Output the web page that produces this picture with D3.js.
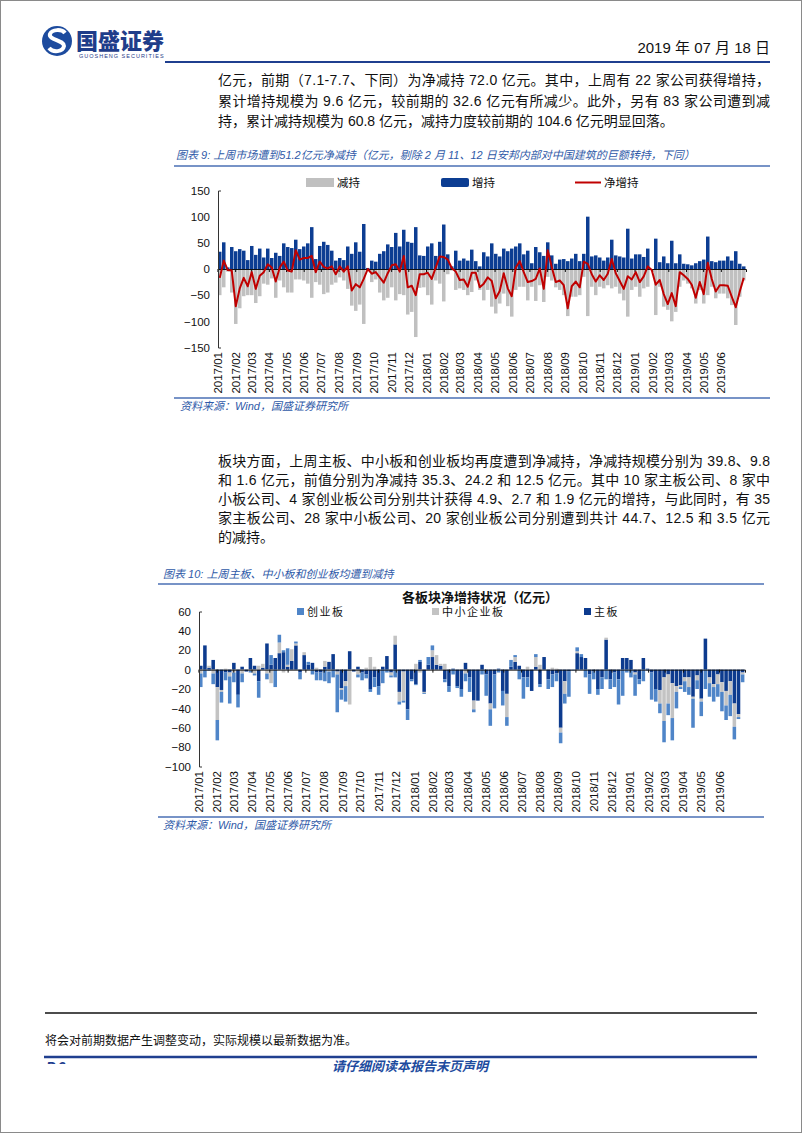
<!DOCTYPE html>
<html>
<head>
<meta charset="utf-8">
<script src="https://cdn.jsdelivr.net/npm/d3@7"></script>
<style>
  body { margin: 0; background: #fff; }
  text { font-family: "Liberation Sans", "Noto Sans CJK SC", sans-serif; }
  .cjk { font-family: "Liberation Sans", "Noto Sans CJK SC", sans-serif; }
</style>
</head>
<body>
<svg id="page" width="802" height="1133"></svg>
<script>
// ---- data ----
const months = ["2017/01","2017/02","2017/03","2017/04","2017/05","2017/06","2017/07","2017/08","2017/09","2017/10","2017/11","2017/12",
  "2018/01","2018/02","2018/03","2018/04","2018/05","2018/06","2018/07","2018/08","2018/09","2018/10","2018/11","2018/12",
  "2019/01","2019/02","2019/03","2019/04","2019/05","2019/06"]
const firstWeek = "2017-01-02"

// chart 9: weekly reduction / increase (亿元)
const decrease = [-50,-35,-5,-45,-105,-75,-52,-50,-50,-65, -52,-28,-30,-18,-55,-22,-35,-45,-45,-20,
  -20,-22,-28,-55,-25,-30,-48,-45,-30,-26, -16,-22,-38,-70,-80,-68,-105,-2,-25,-20,
  -45,-60,-55,-35,-60,-48,-50,-87,-82,-130, -36,-35,-50,-68,-22,-28,-62,-10,-3,
  -40,-37,-40,-50,-44, -22,-40,-60,-40,-72, -85,-66,-47,-71,-91, -40,-34,-34,-60,-34,
  -61,-31,-63,-15,-22, -35,-40,-50,-90,-53, -53,-50,-15,-90,-34, -50,-34,-37,-31,-37,
  -34,-47,-60,-91,-40, -34,-53,-37,-34,-2, -88,-34,-72,-78,-100, -82,-34,-22,-28,-37,
  -66,-40,-66,-50,-34, -56,-47,-47,-56,-69, -107,-53,-22]
const increase = [33,51,3,42,34,38,35,17,44,27, 39,22,39,21,31,25,49,42,40,56,
  38,43,49,80,19,44,52,46,35,16, 21,17,43,29,51,33,86,2,16,14,
  29,34,47,42,69,43,75,52,50,80, 26,25,43,49,25,52,85,28,5,
  35,16,20,16,37, 15,5,32,24,49, 29,24,39,34,39, 43,49,28,35,11,
  42,32,25,51,26, 10,18,19,15,20, 29,15,29,100,24, 26,22,16,22,56,
  26,24,22,77,20, 28,28,23,39,0, 58,13,24,11,54, 11,28,10,9,7,
  11,15,18,62,15, 13,16,16,24,16, 34,10,5]

// chart 10: weekly net change by board (亿元)
const mainBoard = [4,25,2,10,-18,-21,-3,-3,7,-26, 3,-2,12,4,-12,2,27,5,12,17,
  18,3,9,25,-3,15,5,7,-3,-3, 3,8,16,-2,-19,-12,19,-2,3,-3,
  -5,-20,-8,-17,3,14,-3,26,-23,-2, -41,-10,-15,8,-23,5,13,5,4,-10,
  -17,1,-17,-20,7,-8,-32,-32,5,-5, -35,-5,1,-22,-25,3,8,4,-8,-8,
  -22,3,-15,13,-10,-5,-4,-60,-12,-2, 0,17,13,12,-5,-2,-20,-8,31,-10,
  -3,-10,12,12,10,-3,-10,12,1,-3, -20,-21,-8,-5,-14,-17,-16,-8,-8,-28,
  -6,-30,32,-8,-15,-5,-13,-22,-12,-35, -46,-3]
const smeBoard = [-4,0,2,-4,-34,-2,1,-4,-3,0, -4,0,-1,-4,4,4,-4,-14,0,11,
  -3,2,12,2,0,3,0,0,2,0, 6,-2,0,-3,-2,-5,-36,0,-5,0,
  2,13,3,0,0,0,-3,9,-10,-30, 0,0,6,-3,-1,0,7,10,2,6,
  0,0,0,0,-4,0,-9,0,0,0, -6,0,0,0,-24,0,5,0,0,3,
  0,10,5,0,0,2,1,-5,-13,0, 0,2,0,0,0,0,0,0,2,0,
  0,0,0,0,0,-2,0,0,0,0, 0,-14,-45,-30,-36,-6,-2,-4,-10,-2,
  -5,-3,0,-6,-3,-10,-10,-15,-14,-24, -3,-2]
const gemBoard = [-14,-8,-1,-11,-21,-11,-8,-28,-10,-13, -9,0,-2,-2,-17,0,-6,10,-18,8,
  2,17,0,2,-7,0,3,-5,-8,-8, -12,-12,-8,-39,-10,-16,0,0,-3,-8,
  -4,-3,-10,-9,-14,-3,-2,-8,-3,-2, -11,-2,-1,2,-1,8,5,0,0,-3,
  -6,-5,-2,-8,-8,-15,-3,0,-5,-22, -17,-35,-3,-15,-9,7,2,-10,-22,-10,
  0,3,-3,0,-10,-13,-8,-11,-10,-26, -1,4,3,-8,-20,-8,-6,-12,-10,-10,
  -15,-26,-27,-3,-8,-22,-5,-12,-1,-28, -13,-10,-22,-12,-23,-17,-2,-11,-8,-30,
  -9,-15,-20,-14,-15,-13,-20,-15,-22,-13, -2,-8]

const yTicks9 = [-150,-100,-50,0,50,100,150]
const yTicks10 = [-100,-80,-60,-40,-20,0,20,40,60]

const para1 = ["亿元，前期（7.1-7.7、下同）为净减持 72.0 亿元。其中，上周有 22 家公司获得增持，",
  "累计增持规模为 9.6 亿元，较前期的 32.6 亿元有所减少。此外，另有 83 家公司遭到减",
  "持，累计减持规模为 60.8 亿元，减持力度较前期的 104.6 亿元明显回落。"]
const para2 = ["板块方面，上周主板、中小板和创业板均再度遭到净减持，净减持规模分别为 39.8、9.8",
  "和 1.6 亿元，前值分别为净减持 35.3、24.2 和 12.5 亿元。其中 10 家主板公司、8 家中",
  "小板公司、4 家创业板公司分别共计获得 4.9、2.7 和 1.9 亿元的增持，与此同时，有 35",
  "家主板公司、28 家中小板公司、20 家创业板公司分别遭到共计 44.7、12.5 和 3.5 亿元",
  "的减持。"]

// ---- page ----
const svg = d3.select("#page")
const blue = "#1f3f8f", capBlue = "#2f5aa8"
const parseMonth = d3.timeParse("%Y/%m")
const t0 = d3.timeParse("%Y-%m-%d")(firstWeek)
const weeks = increase.map((v, i) => d3.timeWeek.offset(t0, i))
const tEnd = d3.timeWeek.offset(t0, increase.length)

svg.append("rect").attr("x",0.5).attr("y",0.5).attr("width",801).attr("height",1132)
  .attr("fill","none").attr("stroke","#8a8a8a")

// header
const logo = svg.append("g")
logo.append("circle").attr("cx",57).attr("cy",41).attr("r",15).attr("fill","#1d4b9e")
logo.append("path").attr("d","M65,33 C62,29 52,29 50,34 C48,40 64,40 64,46 C63,52 53,53 49,48")
  .attr("fill","none").attr("stroke","#fff").attr("stroke-width",4)
logo.append("text").attr("x",76).attr("y",49).attr("font-size",22).attr("font-weight",900)
  .attr("fill","#1f3d8a").attr("class","cjk").text("国盛证券")
logo.append("text").attr("x",79).attr("y",58).attr("font-size",5.5).attr("letter-spacing",1)
  .attr("fill","#1f3d8a").text("GUOSHENG SECURITIES")
svg.append("text").attr("x",770).attr("y",53).attr("text-anchor","end").attr("font-size",15)
  .attr("fill","#111").text("2019 年 07 月 18 日")
svg.append("line").attr("x1",165).attr("x2",770).attr("y1",62).attr("y2",62)
  .attr("stroke",blue).attr("stroke-width",2)

function paragraph(lines, y0, step) {
  lines.forEach((s, i) => {
    const t = svg.append("text").attr("x",218).attr("y",y0 + i*step).attr("font-size",14)
      .attr("fill","#111").text(s)
    if (i < lines.length - 1) t.attr("textLength",552).attr("lengthAdjust","spacing")
  })
}
paragraph(para1, 85, 20.5)
paragraph(para2, 466, 19)

function caption(x, y, x1, x2, ly, txt) {
  svg.append("text").attr("x",x).attr("y",y).attr("font-size",11).attr("font-style","italic")
    .attr("fill",capBlue).text(txt)
  svg.append("line").attr("x1",x1).attr("x2",x2).attr("y1",ly).attr("y2",ly)
    .attr("stroke","#4a6fb5").attr("stroke-width",1.3)
}
caption(176, 159, 174, 770, 166, "图表 9:  上周市场遭到51.2亿元净减持（亿元，剔除 2 月 11、12 日安邦内部对中国建筑的巨额转持，下同）")
svg.append("line").attr("x1",174).attr("x2",770).attr("y1",398).attr("y2",398).attr("stroke","#4a6fb5").attr("stroke-width",1.3)
svg.append("text").attr("x",180).attr("y",410).attr("font-size",11).attr("font-style","italic").attr("fill",capBlue).text("资料来源：Wind，国盛证券研究所")

caption(163, 578, 158, 764, 584, "图表 10:  上周主板、中小板和创业板均遭到减持")
svg.append("line").attr("x1",158).attr("x2",764).attr("y1",817).attr("y2",817).attr("stroke","#4a6fb5").attr("stroke-width",1.3)
svg.append("text").attr("x",163).attr("y",829).attr("font-size",11).attr("font-style","italic").attr("fill",capBlue).text("资料来源：Wind，国盛证券研究所")

// footer
svg.append("line").attr("x1",45).attr("x2",757).attr("y1",1013).attr("y2",1013).attr("stroke","#111").attr("stroke-width",1.5)
svg.append("text").attr("x",45).attr("y",1045).attr("font-size",12).attr("fill","#111").text("将会对前期数据产生调整变动，实际规模以最新数据为准。")
svg.append("line").attr("x1",44).attr("x2",757).attr("y1",1057).attr("y2",1057).attr("stroke",blue).attr("stroke-width",2.5)
svg.append("clipPath").attr("id","pclip").append("rect").attr("x",40).attr("y",1059).attr("width",40).attr("height",5)
svg.append("text").attr("x",46).attr("y",1072).attr("font-size",14).attr("font-weight",700).attr("font-style","italic")
  .attr("fill",blue).attr("clip-path","url(#pclip)").text("P.6")
svg.append("text").attr("x",410).attr("y",1071).attr("text-anchor","middle").attr("font-size",13).attr("font-weight",700)
  .attr("font-style","italic").attr("fill","#1d4b9e").text("请仔细阅读本报告末页声明")

// month axis helper
function monthAxis(g, x, yPos) {
  const ax = g.append("g").attr("transform",`translate(0,${yPos})`)
    .call(d3.axisBottom(x).tickValues(months.map(parseMonth)).tickSize(0).tickFormat(d3.timeFormat("%Y/%m")))
  ax.select(".domain").remove()
  ax.selectAll("text").attr("transform","rotate(-90)").attr("x",-4).attr("y",0).attr("dy","0.35em")
    .style("text-anchor","end").attr("font-size",11.5).attr("fill","#111")
    .attr("font-family","Liberation Sans")
}
function zeroLine(g, x, y0) {
  const z = g.append("g").attr("transform",`translate(0,${y0})`)
    .call(d3.axisBottom(x).tickValues(months.map(parseMonth)).tickSize(3).tickFormat(""))
  z.select(".domain").attr("stroke","#111")
  z.selectAll(".tick line").attr("stroke","#111")
}
function valueAxis(g, y, ticks, xPos) {
  const ax = g.append("g").attr("transform",`translate(${xPos},0)`)
    .call(d3.axisLeft(y).tickValues(ticks).tickSizeInner(0).tickSizeOuter(-3).tickPadding(8))
  ax.select(".domain").attr("stroke","#333")
  ax.selectAll("text").attr("font-size",11.5).attr("fill","#111").attr("font-family","Liberation Sans")
}

// ---- chart 9 ----
const c1 = svg.append("g")
const x1 = d3.scaleTime().domain([t0, tEnd]).range([218, 746])
const y1 = d3.scaleLinear().domain([-150, 150]).range([347.5, 190.5])
const bw1 = d => x1(d3.timeWeek.offset(d, 1)) - x1(d) - 0.5

c1.append("g").selectAll("rect").data(weeks).join("rect")
  .attr("x", d => x1(d)).attr("width", bw1)
  .attr("y", y1(0)).attr("height", (d, i) => y1(decrease[i]) - y1(0)).attr("fill","#c0c0c0")
c1.append("g").selectAll("rect").data(weeks).join("rect")
  .attr("x", d => x1(d)).attr("width", bw1)
  .attr("y", (d, i) => y1(increase[i])).attr("height", (d, i) => y1(0) - y1(increase[i])).attr("fill","#0c3d92")
zeroLine(c1, x1, y1(0))
const net = weeks.map((d, i) => ({ d, v: increase[i] + decrease[i] }))
c1.append("path").datum(net).attr("fill","none").attr("stroke","#c00000").attr("stroke-width",2)
  .attr("stroke-linejoin","round")
  .attr("d", d3.line().x(p => x1(p.d) + bw1(p.d)/2).y(p => y1(p.v)))
valueAxis(c1, y1, yTicks9, 218)
monthAxis(c1, x1, 348)

const lg1 = c1.append("g").attr("font-size",11.5).attr("fill","#111")
lg1.append("rect").attr("x",306).attr("y",178).attr("width",28).attr("height",9).attr("fill","#c0c0c0")
lg1.append("text").attr("x",337).attr("y",187).attr("class","cjk").text("减持")
lg1.append("rect").attr("x",441).attr("y",178).attr("width",28).attr("height",9).attr("rx",2).attr("fill","#0c3d92")
lg1.append("text").attr("x",472).attr("y",187).attr("class","cjk").text("增持")
lg1.append("line").attr("x1",575).attr("x2",601).attr("y1",182.5).attr("y2",182.5).attr("stroke","#c00000").attr("stroke-width",2)
lg1.append("text").attr("x",604).attr("y",187).attr("class","cjk").text("净增持")

// ---- chart 10 ----
const c2 = svg.append("g")
const x2 = d3.scaleTime().domain([t0, tEnd]).range([199, 745])
const y2 = d3.scaleLinear().domain([-100, 60]).range([766.5, 611.5])
const bw2 = d => x2(d3.timeWeek.offset(d, 1)) - x2(d) - 0.6
const rows = weeks.map((d, i) => ({ date: d, main: mainBoard[i], sme: smeBoard[i], gem: gemBoard[i] }))
const keys = ["main", "sme", "gem"]
const colors = { main: "#0d3b8e", sme: "#c3c3c3", gem: "#4f85c8" }
const stacked = d3.stack().keys(keys).offset(d3.stackOffsetDiverging)(rows)
c2.append("g").selectAll("g").data(stacked).join("g").attr("fill", s => colors[s.key])
  .selectAll("rect").data(s => s).join("rect")
  .attr("x", p => x2(p.data.date)).attr("width", p => bw2(p.data.date))
  .attr("y", p => y2(Math.max(p[0], p[1]))).attr("height", p => Math.abs(y2(p[0]) - y2(p[1])))
zeroLine(c2, x2, y2(0))
valueAxis(c2, y2, yTicks10, 199)
monthAxis(c2, x2, 767)

c2.append("text").attr("x",480).attr("y",602).attr("text-anchor","middle").attr("font-size",13)
  .attr("font-weight",700).attr("fill","#111").attr("class","cjk").text("各板块净增持状况（亿元）")
const legend2 = [["创业板","gem",297],["中小企业板","sme",432],["主板","main",584]]
legend2.forEach(([name, k, lx]) => {
  c2.append("rect").attr("x",lx).attr("y",608).attr("width",7).attr("height",7).attr("fill",colors[k])
  c2.append("text").attr("x",lx + 10).attr("y",616).attr("font-size",11).attr("letter-spacing",1.5)
    .attr("fill","#111").attr("class","cjk").text(name)
})
</script>
</body>
</html>
